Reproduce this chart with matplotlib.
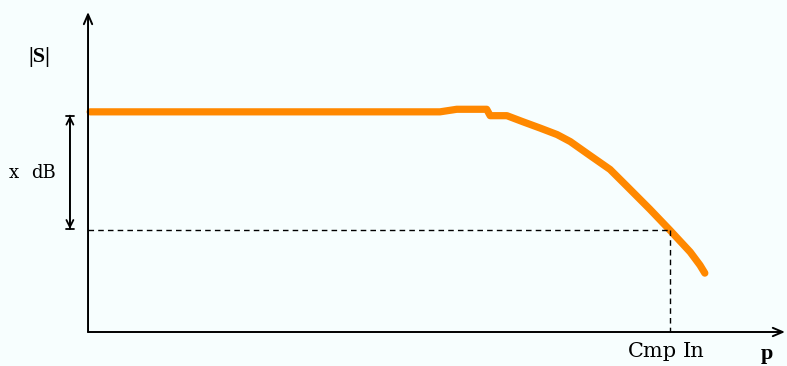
import numpy as np
import matplotlib.pyplot as plt

# input power p and output magnitude |S| (arbitrary units)
p_in = np.array([0.3, 30.0, 50.5, 52.9, 57.2, 57.7, 60.1, 62.4, 64.9, 67.3, 69.2,
                 72.0, 74.9, 77.3, 80.6, 83.5, 86.4, 87.8, 88.5])
s_out = np.array([68.8, 68.8, 68.8, 69.6, 69.6, 67.6, 67.6, 65.7, 63.7, 61.7, 59.5,
                  55.2, 50.8, 45.6, 38.4, 31.8, 25.0, 20.9, 18.4])

p_cmp = 83.5      # compression input level
s_cmp = 31.8      # |S| at compression point
s_ref = 67.6      # top of the x dB bracket
p_max = 100.0
s_max = 100.0

bg = '#f7fefe'
fig = plt.figure(figsize=(7.87, 3.66), dpi=100, facecolor=bg)
ax = fig.add_axes([0, 0, 1, 1], facecolor=bg)
ax.set_xlim(-12.63, 100.29)
ax.set_ylim(-10.625, 103.75)
ax.axis('off')

serif = ['DejaVu Serif']
bold_serif = ['Liberation Serif', 'DejaVu Serif']

# axes with arrow heads
arrow = dict(arrowstyle='->,head_length=0.7,head_width=0.3', color='black', lw=1.4,
             shrinkA=0, shrinkB=0)
ax.annotate('', xy=(p_max, 0), xytext=(0, 0), arrowprops=arrow)
ax.annotate('', xy=(0, s_max), xytext=(0, 0), arrowprops=arrow)

# curve
ax.plot(p_in, s_out, color='#ff8800', lw=5.2, solid_capstyle='round', solid_joinstyle='round')

# dashed guides to the compression point
ax.plot([0, p_cmp], [s_cmp, s_cmp], ls=(0, (4, 3)), color='black', lw=1.0)
ax.plot([p_cmp, p_cmp], [s_cmp, 0], ls=(0, (4, 3)), color='black', lw=1.0)

# x dB bracket
px = -2.6
ax.annotate('', xy=(px, s_ref), xytext=(px, s_cmp + 0.4),
            arrowprops=dict(arrowstyle='<->,head_length=0.5,head_width=0.25', color='black',
                            lw=1.3, shrinkA=0, shrinkB=0))
ax.annotate('', xy=(px, s_ref), xytext=(px, s_cmp + 0.4),
            arrowprops=dict(arrowstyle='|-|,widthA=0.3,widthB=0.3', color='black',
                            lw=1.3, shrinkA=0, shrinkB=0))

ax.text(-11.3, 49.6, 'x', fontsize=13, family=serif, va='center', ha='left')
ax.text(-8.2, 49.6, 'dB', fontsize=13, family=serif, va='center', ha='left')
ax.text(-7.0, 86.0, '|S|', fontsize=16, family=bold_serif, weight='bold', va='center', ha='center')
ax.text(p_cmp - 6.0, -6.0, 'Cmp', fontsize=15, family=serif, va='center', ha='left')
ax.text(p_cmp + 1.9, -6.0, 'In', fontsize=15, family=serif, va='center', ha='left')
ax.text(97.4, -7.0, 'p', fontsize=16, family=bold_serif, weight='bold', va='center', ha='center')

fig.savefig('out.png', dpi=100, facecolor=bg)
